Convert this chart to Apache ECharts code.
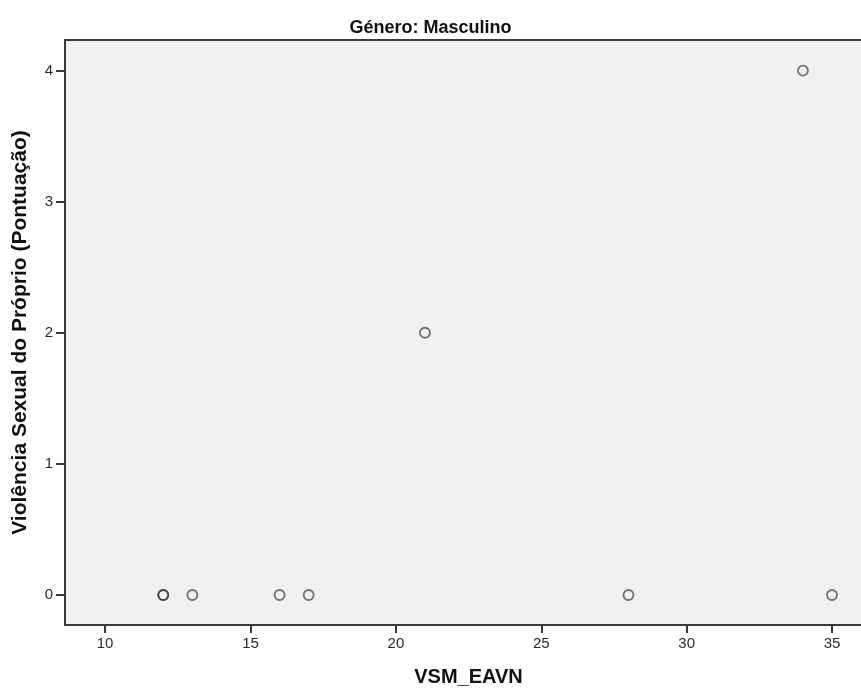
<!DOCTYPE html>
<html>
<head>
<meta charset="utf-8">
<script src="https://cdn.jsdelivr.net/npm/echarts@6/dist/echarts.min.js"></script>
<style>
  html, body { margin: 0; padding: 0; background: #ffffff; }
  #chart { width: 861px; height: 689px; }
</style>
</head>
<body>
<div id="chart"></div>
<script>
// VSM_EAVN score per respondent (male group)
const vsmEavn = [12, 12, 13, 16, 17, 21, 28, 34, 35];
// Own sexual violence score per respondent
const violenciaPropria = [0, 0, 0, 0, 0, 2, 0, 4, 0];
// Tick labels
const xTicks = [10, 15, 20, 25, 30, 35];
const yTicks = [0, 1, 2, 3, 4];

const points = vsmEavn.map((v, i) => [v, violenciaPropria[i]]);

const chart = echarts.init(document.getElementById('chart'), null, { renderer: 'canvas' });

const axisColor = '#3a3a3a';
const labelFont = { color: '#2a2a2a', fontFamily: 'Liberation Sans, Arial, sans-serif', fontSize: 15 };

chart.setOption({
  animation: false,
  backgroundColor: '#ffffff',
  title: {
    text: 'Género: Masculino',
    left: 'center',
    top: 14,
    textStyle: {
      fontFamily: 'Liberation Sans, Arial, sans-serif',
      fontWeight: 'bold',
      fontSize: 18,
      color: '#111'
    }
  },
  grid: {
    left: 65,
    top: 40,
    right: -3,
    bottom: 64,
    containLabel: false,
    outerBoundsMode: 'none',
    show: true,
    backgroundColor: '#f0f0f0',
    borderColor: axisColor,
    borderWidth: 2
  },
  xAxis: {
    type: 'value',
    min: 8.62,
    max: 36.1,
    name: 'VSM_EAVN',
    nameLocation: 'middle',
    nameGap: 42,
    nameTextStyle: {
      fontFamily: 'Liberation Sans, Arial, sans-serif',
      fontWeight: 'bold',
      fontSize: 20,
      color: '#111',
      padding: [0, 0, 0, 8]
    },
    splitLine: { show: false },
    axisLine: { show: true, onZero: false, lineStyle: { color: axisColor, width: 2 } },
    axisTick: { show: true, length: 8, customValues: xTicks, lineStyle: { color: axisColor, width: 2 } },
    axisLabel: Object.assign({ customValues: xTicks, margin: 11 }, labelFont)
  },
  yAxis: {
    type: 'value',
    min: -0.229,
    max: 4.233,
    name: 'Violência Sexual do Próprio (Pontuação)',
    nameLocation: 'middle',
    nameGap: 34,
    nameTextStyle: {
      fontFamily: 'Liberation Sans, Arial, sans-serif',
      fontWeight: 'bold',
      fontSize: 21,
      color: '#111'
    },
    splitLine: { show: false },
    axisLine: { show: true, onZero: false, lineStyle: { color: axisColor, width: 2 } },
    axisTick: { show: true, length: 9, customValues: yTicks, lineStyle: { color: axisColor, width: 2 } },
    axisLabel: Object.assign({ customValues: yTicks, margin: 12 }, labelFont)
  },
  series: [{
    type: 'scatter',
    data: points,
    symbol: 'circle',
    symbolSize: 10,
    itemStyle: {
      color: 'rgba(0,0,0,0)',
      borderColor: 'rgba(40,40,40,0.8)',
      borderWidth: 1.8
    },
    emphasis: { disabled: true }
  }]
});
</script>
</body>
</html>
